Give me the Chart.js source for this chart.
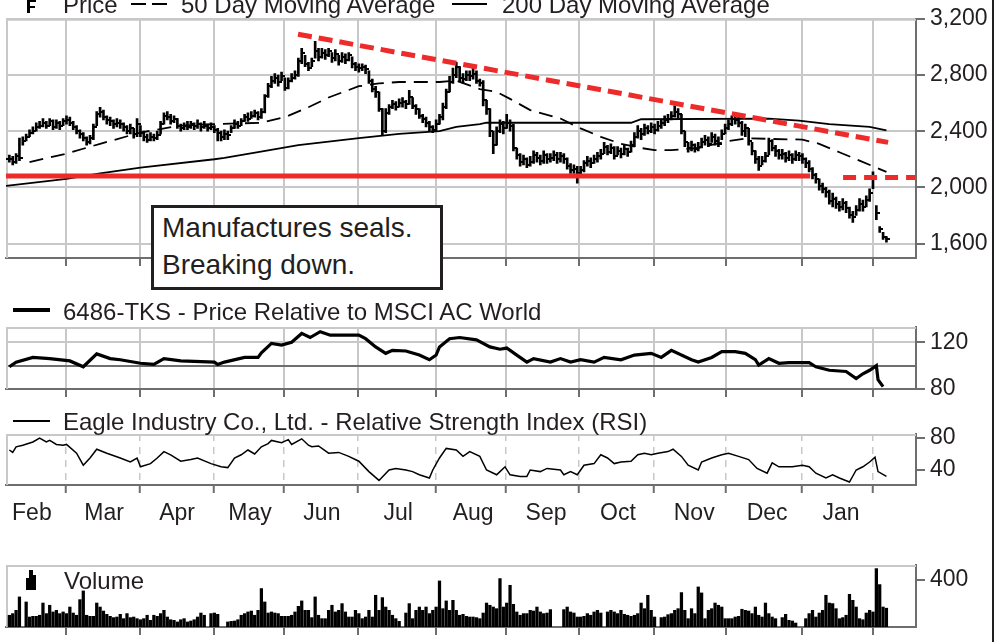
<!DOCTYPE html>
<html>
<head>
<meta charset="utf-8">
<title>Eagle Industry Co., Ltd. (6486-TKS)</title>
<script src="https://cdn.jsdelivr.net/npm/chart.js@4.4.1/dist/chart.umd.min.js"></script>
<style>
  html, body { margin: 0; padding: 0; background: #fff; }
  #page { position: relative; width: 997px; height: 642px; overflow: hidden;
          font-family: "Liberation Sans", Arial, Helvetica, sans-serif; color: #231f20; }
  #page canvas { position: absolute; left: 0; }
  .txt { position: absolute; font-size: 24px; line-height: 24px; white-space: nowrap; }
  .ink { position: absolute; background: #000; }
  #note { position: absolute; left: 151px; top: 205px; width: 278px; height: 78px;
          border: 3px solid #231f20; background: #fff; font-size: 28px; line-height: 37px;
          padding: 1px 0 0 8px; white-space: nowrap; }
  #edge { position: absolute; left: 992px; top: 0; width: 2px; height: 642px; background: #231f20; }
</style>
</head>
<body>
<div id="page">
  <canvas id="price" width="997" height="286" style="top:0"></canvas>
  <canvas id="rel" width="997" height="117" style="top:300px"></canvas>
  <canvas id="rsi" width="997" height="125" style="top:410px"></canvas>
  <canvas id="vol" width="997" height="115" style="top:540px"></canvas>

  <!-- price legend -->
  <div class="ink" style="left:27px;top:-6px;width:3px;height:19px"></div>
  <div class="ink" style="left:30px;top:0px;width:6px;height:2px"></div>
  <div class="ink" style="left:30px;top:6px;width:5px;height:2px"></div>
  <div class="txt" style="left:63px;top:-7px">Price</div>
  <div class="ink" style="left:131px;top:3px;width:15px;height:2px"></div>
  <div class="ink" style="left:152px;top:3px;width:15px;height:2px"></div>
  <div class="txt" style="left:181px;top:-7px">50 Day Moving Average</div>
  <div class="ink" style="left:452px;top:3px;width:35px;height:2px"></div>
  <div class="txt" style="left:502px;top:-7px">200 Day Moving Average</div>

  <div id="note">Manufactures seals.<br>Breaking down.</div>

  <div class="ink" style="left:13px;top:308px;width:37px;height:4px"></div>
  <div class="txt" style="left:63px;top:300px">6486-TKS - Price Relative to MSCI AC World</div>

  <div class="ink" style="left:13px;top:420px;width:37px;height:2px"></div>
  <div class="txt" style="left:63px;top:410px">Eagle Industry Co., Ltd. - Relative Strength Index (RSI)</div>

  <div class="ink" style="left:26px;top:578px;width:3px;height:12px"></div>
  <div class="ink" style="left:29px;top:570px;width:4px;height:20px"></div>
  <div class="ink" style="left:33px;top:575px;width:3px;height:15px"></div>
  <div class="txt" style="left:64px;top:569px">Volume</div>

  <div id="edge"></div>
</div>

<script>
const FONT = '"Liberation Sans", Arial, Helvetica, sans-serif';
const INK = '#231f20', LIGHT = '#c8c8c8', AXIS = '#6e6e6e', RED = '#ee2b2b';

// x is a weekday count from the start of February
const xMax = 270.8;
const monthStarts = [17.9, 39.9, 61.9, 82.7, 104.8, 128.0, 148.8, 170.5, 192.9, 214.3, 236.9, 258.0];
const monthMid = [7.7, 29.2, 50.9, 72.6, 94.0, 116.7, 139.0, 160.7, 182.1, 204.8, 226.5, 248.5];
const monthNames = ['Feb', 'Mar', 'Apr', 'May', 'Jun', 'Jul', 'Aug', 'Sep', 'Oct', 'Nov', 'Dec', 'Jan'];

const priceTicks = [1600, 2000, 2400, 2800, 3200];
const relTicks = [80, 100, 120];
const rsiTicks = [40, 80];
const volTicks = [400];

// daily bars, day 1 .. 262
const hi = [
  2230, 2220, 2240, 2350, 2360, 2380, 2410, 2430, 2460, 2470,
  2490, 2470, 2490, 2480, 2480, 2470, 2490, 2510, 2500, 2470,
  2440, 2410, 2390, 2360, 2370, 2450, 2540, 2570, 2550, 2510,
  2500, 2480, 2490, 2480, 2460, 2440, 2450, 2420, 2490, 2440,
  2400, 2380, 2390, 2380, 2400, 2470, 2530, 2540, 2520, 2510,
  2490, 2450, 2460, 2470, 2470, 2460, 2480, 2460, 2470, 2450,
  2460, 2440, 2420, 2400, 2410, 2400, 2440, 2480, 2470, 2490,
  2520, 2530, 2540, 2550, 2540, 2560, 2660, 2740, 2790, 2810,
  2800, 2820, 2780, 2780, 2810, 2830, 2920, 2990, 2940, 2890,
  2920, 3040, 2990, 2990, 2980, 2990, 2960, 2980, 2940, 2960,
  2950, 2960, 2930, 2890, 2880, 2880, 2870, 2830, 2770, 2720,
  2680, 2560, 2560, 2590, 2620, 2610, 2630, 2640, 2620, 2690,
  2640, 2590, 2560, 2520, 2500, 2470, 2440, 2480, 2520, 2600,
  2700, 2790, 2850, 2890, 2860, 2810, 2830, 2830, 2850, 2830,
  2770, 2760, 2620, 2560, 2400, 2430, 2480, 2470, 2520, 2480,
  2450, 2280, 2240, 2230, 2210, 2220, 2260, 2250, 2230, 2260,
  2240, 2240, 2260, 2250, 2250, 2240, 2210, 2170, 2160, 2150,
  2150, 2190, 2220, 2210, 2230, 2250, 2270, 2320, 2300, 2310,
  2290, 2290, 2280, 2300, 2280, 2330, 2390, 2440, 2420, 2450,
  2440, 2460, 2450, 2470, 2480, 2510, 2520, 2540, 2580, 2560,
  2520, 2400, 2320, 2330, 2310, 2320, 2350, 2370, 2360, 2390,
  2380, 2360, 2410, 2450, 2480, 2510, 2510, 2500, 2470, 2450,
  2420, 2320, 2260, 2220, 2220, 2250, 2350, 2340, 2300, 2270,
  2270, 2250, 2260, 2240, 2260, 2250, 2240, 2210, 2190, 2140,
  2100, 2060, 2030, 2000, 1980, 1960, 1930, 1900, 1920, 1900,
  1860, 1830, 1870, 1920, 1910, 1940, 1990, 2110, 1870, 1720, 1680, 1650
];
const lo = [
  2180, 2160, 2170, 2190, 2300, 2330, 2360, 2380, 2400, 2420,
  2430, 2420, 2440, 2410, 2420, 2410, 2440, 2450, 2440, 2410,
  2380, 2350, 2330, 2300, 2310, 2340, 2440, 2500, 2480, 2450,
  2440, 2420, 2430, 2420, 2400, 2380, 2380, 2350, 2360, 2360,
  2330, 2320, 2330, 2330, 2340, 2380, 2450, 2480, 2450, 2460,
  2420, 2400, 2410, 2410, 2420, 2410, 2420, 2400, 2420, 2400,
  2410, 2390, 2330, 2330, 2340, 2340, 2390, 2420, 2420, 2440,
  2470, 2470, 2490, 2500, 2480, 2490, 2530, 2640, 2710, 2740,
  2720, 2760, 2690, 2700, 2750, 2770, 2790, 2880, 2860, 2830,
  2860, 2920, 2900, 2920, 2910, 2930, 2890, 2900, 2870, 2890,
  2880, 2900, 2850, 2830, 2820, 2830, 2810, 2740, 2680, 2640,
  2540, 2370, 2390, 2520, 2560, 2550, 2570, 2570, 2560, 2590,
  2560, 2520, 2490, 2460, 2430, 2400, 2390, 2400, 2450, 2480,
  2560, 2680, 2740, 2780, 2750, 2740, 2760, 2760, 2770, 2740,
  2720, 2580, 2520, 2360, 2240, 2300, 2390, 2380, 2420, 2400,
  2260, 2200, 2150, 2160, 2140, 2150, 2170, 2180, 2160, 2170,
  2170, 2180, 2190, 2170, 2180, 2170, 2130, 2100, 2100, 2030,
  2090, 2110, 2150, 2140, 2170, 2180, 2200, 2240, 2230, 2240,
  2200, 2230, 2210, 2230, 2220, 2250, 2290, 2350, 2340, 2370,
  2380, 2390, 2380, 2400, 2420, 2440, 2460, 2480, 2500, 2490,
  2380, 2290, 2250, 2260, 2250, 2260, 2280, 2300, 2290, 2320,
  2300, 2290, 2340, 2380, 2410, 2440, 2450, 2430, 2370, 2360,
  2300, 2230, 2170, 2120, 2160, 2180, 2230, 2260, 2220, 2200,
  2200, 2180, 2190, 2170, 2190, 2190, 2170, 2140, 2110, 2060,
  2030, 1980, 1960, 1930, 1880, 1860, 1850, 1830, 1840, 1820,
  1780, 1750, 1800, 1830, 1830, 1860, 1900, 1990, 1770, 1680, 1630, 1610
];
const cl = [
  2200, 2180, 2220, 2210, 2330, 2360, 2390, 2400, 2430, 2440,
  2460, 2440, 2470, 2430, 2460, 2440, 2470, 2480, 2460, 2430,
  2400, 2380, 2350, 2320, 2350, 2430, 2520, 2540, 2500, 2480,
  2470, 2450, 2460, 2450, 2430, 2400, 2420, 2380, 2450, 2390,
  2360, 2340, 2360, 2350, 2370, 2450, 2510, 2500, 2470, 2490,
  2440, 2420, 2440, 2430, 2450, 2440, 2450, 2430, 2440, 2420,
  2430, 2410, 2390, 2360, 2380, 2370, 2420, 2450, 2440, 2470,
  2500, 2490, 2510, 2530, 2500, 2540, 2650, 2720, 2760, 2780,
  2750, 2790, 2710, 2760, 2780, 2800, 2900, 2960, 2880, 2850,
  2900, 2970, 2930, 2960, 2940, 2970, 2920, 2950, 2900, 2930,
  2910, 2940, 2880, 2860, 2850, 2860, 2840, 2760, 2700, 2680,
  2560, 2400, 2530, 2570, 2590, 2570, 2600, 2610, 2590, 2640,
  2580, 2560, 2510, 2490, 2460, 2430, 2410, 2450, 2500, 2570,
  2680, 2750, 2800, 2860, 2780, 2770, 2800, 2790, 2810, 2760,
  2740, 2620, 2560, 2400, 2300, 2400, 2450, 2420, 2460, 2440,
  2280, 2230, 2180, 2200, 2160, 2180, 2230, 2210, 2190, 2230,
  2200, 2210, 2230, 2200, 2220, 2200, 2150, 2120, 2130, 2100,
  2120, 2170, 2190, 2170, 2200, 2220, 2240, 2290, 2250, 2280,
  2220, 2260, 2240, 2270, 2250, 2300, 2360, 2400, 2380, 2420,
  2400, 2430, 2410, 2440, 2460, 2480, 2490, 2510, 2540, 2520,
  2400, 2320, 2280, 2300, 2270, 2290, 2320, 2340, 2310, 2360,
  2330, 2310, 2380, 2420, 2450, 2490, 2480, 2460, 2400, 2420,
  2330, 2260, 2200, 2150, 2190, 2220, 2330, 2280, 2260, 2230,
  2240, 2210, 2230, 2200, 2230, 2220, 2200, 2170, 2130, 2090,
  2060, 2010, 1990, 1970, 1900, 1920, 1880, 1860, 1890, 1850,
  1800, 1790, 1840, 1880, 1860, 1910, 1960, 2080, 1820, 1700, 1650, 1630
];
// volume (thousands), null = market holiday
const vol = [
  100, 114, 142, 256, null, 213, 85, 91, 91, 100,
  204, 114, 185, 128, 142, 114, 128, 114, 170, 119,
  100, 233, 307, 100, 91, 91, 204, 170, 136, 108,
  91, 80, 85, 108, 71, 114, 80, 85, 71, 62,
  71, 100, 57, 100, 91, 114, 142, 85, 62, 57,
  43, 62, 71, 43, 51, 62, 85, 119, 100, null,
  114, 119, 108, null, null, 43, 48, 51, 62, 100,
  114, 128, 136, 100, 142, 327, 213, 119, 128, 119,
  114, 91, 91, 91, 100, 128, 176, 222, 142, 142,
  80, 256, 100, 71, 71, 142, 185, 128, 142, 199,
  128, 85, 85, 142, 114, 71, 85, 142, 85, 270,
  142, 250, 170, 142, 100, 71, 48, null, 119, 199,
  71, 142, 170, 142, 170, 114, 142, 170, 392, 156,
  222, 142, 227, 142, 100, 108, 91, 85, 85, 80,
  71, 119, 204, 185, 170, 156, 412, 170, 204, 355,
  193, 128, 100, 114, 114, 142, 136, 170, 128, 114,
  119, 148, null, null, null, 148, 170, 128, 119, 85,
  85, 91, 114, 100, 128, 142, 119, null, 128, 142,
  128, 114, 142, 108, 100, 91, 100, 114, 204, 156,
  270, 142, 85, null, 80, 85, 105, 114, 142, 156,
  293, 142, 71, 156, 114, 341, 290, 71, 142, 156,
  204, 185, 170, 71, 71, 71, 85, 91, 151, 142,
  136, 114, 170, 100, 85, 204, 114, 85, 71, null,
  80, 108, 57, 51, 34, null, null, 71, 114, 142,
  85, 119, 142, 270, 204, 199, 156, 71, 80, 100,
  278, 227, 170, 71, 62, 119, 142, 128, 497, 361, 170, 160
];

// moving averages
const ma50Days = [7, 18, 28, 40, 52, 62, 76, 83, 90, 96, 105, 111, 117, 129, 134, 141, 146, 150, 156, 165,
  171, 177, 183, 189, 193, 198, 206, 215, 221, 227, 237, 242, 248, 254, 260, 262];
const ma50Vals = [2180, 2240, 2310, 2390, 2440, 2450, 2460, 2500, 2570, 2640, 2720, 2740, 2750, 2750, 2760, 2700, 2680, 2630, 2550, 2490,
  2420, 2360, 2310, 2280, 2265, 2265, 2280, 2330, 2350, 2345, 2340, 2310, 2250, 2190, 2130, 2110];
const ma200Days = [0, 18, 28, 40, 62, 65, 75, 87, 105, 117, 129, 134, 141, 143, 186, 189, 227, 236, 245, 257, 262];
const ma200Vals = [2010, 2060, 2100, 2140, 2200, 2210, 2250, 2300, 2350, 2380, 2400, 2430, 2450, 2460, 2460, 2485, 2490, 2475, 2450, 2430, 2405];

// drawn-in trend lines
const trendDays = [86.9, 262.5];
const trendVals = [3090, 2320];
const supportDays = [0, 239.3];
const supportVals = [2080, 2080];
const breakDays = [249.1, 270.5];
const breakVals = [2070, 2070];

// price relative to MSCI AC World
const relDays = [1, 3, 8, 13, 19, 23, 27, 31, 34, 40, 44, 47, 52, 62, 63, 65, 71, 75, 76, 79,
  82, 85, 88, 90.5, 93.5, 96.5, 101, 105, 107, 110, 113, 115, 119, 123, 126, 128, 129, 132, 135, 140,
  144, 147, 149, 152, 155, 157, 162, 165, 168, 171, 175, 178, 183, 187, 192, 195, 198, 204, 206, 210,
  213, 217, 220, 223, 224, 227, 230, 233, 239, 241, 245, 250, 253, 255, 257, 259, 259.5, 261];
const relVals = [99, 103, 107, 106, 104, 99, 110, 106, 105, 102, 101, 106, 104, 103, 101, 103, 107, 107, 111, 119,
  117.5, 120, 127.5, 124, 129, 126, 126, 126, 123, 116, 110.5, 113, 112.5, 109, 105, 109, 116, 123, 124, 122,
  116, 114, 115, 109, 103, 106, 103, 106, 103, 105, 103, 107, 105, 109, 110.5, 107, 113, 105, 103, 107,
  112, 112, 110.5, 105, 100.5, 106, 102, 102.5, 102.5, 99, 96, 95, 89, 93, 96, 100, 88, 82];

// RSI
const rsiDays = [1, 2, 3, 5, 8, 10, 12, 13, 15, 17, 18, 21, 23, 25, 27, 30, 34, 37, 39, 40,
  43, 45, 47, 49, 52, 55, 57, 61, 64, 66, 68, 70, 72, 74, 76, 78, 79, 82, 84, 85,
  88, 90, 91, 93, 96, 99, 102, 105, 108, 111, 114, 116, 119, 121, 123, 126, 127, 129, 131, 134,
  136, 138, 141, 143, 146, 147, 148.5, 150, 153, 155, 156, 159, 161, 165, 166, 168, 170, 172, 175, 177,
  179, 181, 183, 186, 188, 190, 192, 194, 197, 198.5, 201, 203, 206, 207, 210, 213, 215, 218, 221, 223.5,
  226.5, 228, 230, 234, 237, 239, 241, 244, 246, 248, 251, 253, 255, 257, 258.6, 259.5, 262];
const rsiVals = [65, 62, 69, 71, 75, 80, 75, 77, 72, 71, 72, 61, 46, 55, 66, 61, 55, 50, 55, 44,
  48, 55, 63, 59, 51, 53, 55, 48, 44, 43, 55, 59, 65, 60, 69, 73, 77, 74, 78, 72,
  79, 71, 69, 70, 61, 62, 57, 51, 38, 27, 40, 42, 40, 38, 34, 30, 40, 55, 67, 65,
  57, 63, 57, 40, 34, 38, 44, 34, 32, 32, 40, 38, 42, 40, 34, 38, 34, 46, 48, 59,
  55, 48, 50, 51, 59, 61, 59, 61, 63, 66, 57, 46, 40, 50, 55, 59, 61, 57, 53, 42,
  36, 49, 44, 44, 46, 44, 36, 30, 34, 30, 25, 40, 44, 50, 56, 38, 32];

Chart.defaults.font.family = FONT;
Chart.defaults.color = INK;

const pts = (xs, ys) => xs.map((x, i) => ({ x, y: ys[i] }));

// light left/top frame of each panel
const frame = {
  id: 'frame',
  beforeDatasetsDraw(chart) {
    const { ctx, chartArea: a } = chart;
    ctx.save();
    ctx.strokeStyle = LIGHT;
    ctx.lineWidth = 2;
    ctx.beginPath();
    ctx.moveTo(a.left + 1, a.bottom);
    ctx.lineTo(a.left + 1, a.top + 1);
    ctx.lineTo(a.right, a.top + 1);
    ctx.stroke();
    ctx.restore();
  }
};

function timeAxis(onArea, dash) {
  return {
    type: 'linear', position: 'bottom', min: 0, max: xMax, offset: false, weight: 0,
    afterBuildTicks: s => { s.ticks = monthStarts.map(v => ({ value: v })); },
    afterFit: s => { s.height = 8; },
    ticks: { display: false },
    grid: { offset: false, color: LIGHT, lineWidth: dash ? 1.5 : 2, drawOnChartArea: onArea,
            tickLength: 8, tickColor: AXIS, tickWidth: 2, tickBorderDash: [] },
    border: { color: AXIS, width: 2, dash: dash || [] }
  };
}

function valueAxis(min, max, ticks, fmt, grid) {
  return {
    position: 'right', min, max,
    afterBuildTicks: s => { s.ticks = ticks.map(v => ({ value: v })); },
    afterFit: s => { s.width = 81; },
    ticks: { color: INK, font: { size: 23 }, padding: 5, autoSkip: false, callback: fmt },
    grid: Object.assign({ color: LIGHT, lineWidth: 2, tickLength: 9, tickColor: AXIS, tickWidth: 2 }, grid || {}),
    border: { color: AXIS, width: 2 }
  };
}

function lineSet(data, color, width, dash, order) {
  return { type: 'line', data, borderColor: color, borderWidth: width, borderDash: dash,
           borderCapStyle: 'butt', pointRadius: 0, fill: false, tension: 0, order,
           xAxisID: 'x', yAxisID: 'y' };
}

function mark(right) {
  const c = document.createElement('canvas');
  c.width = 7; c.height = 2;
  const g = c.getContext('2d');
  g.fillStyle = '#000';
  g.fillRect(right ? 4 : 0, 0, 3, 2);
  return c;
}

function options(padding, scales) {
  return {
    responsive: false, animation: false, devicePixelRatio: 1, events: [],
    layout: { padding },
    plugins: { legend: { display: false }, tooltip: { enabled: false } },
    scales
  };
}

const withCommas = v => String(v).replace(/\B(?=(\d{3})+(?!\d))/g, ',');

new Chart(document.getElementById('price'), {
  type: 'bar',
  data: {
    datasets: [
      lineSet(pts(trendDays, trendVals), RED, 5, [14, 7], 0),
      lineSet(pts(supportDays, supportVals), RED, 5, [], 0),
      lineSet(pts(breakDays, breakVals), RED, 5, [13, 8], 0),
      { type: 'bar', data: cl.map((c, i) => ({ x: i + 1, y: [lo[i], hi[i]] })),
        backgroundColor: '#000', borderWidth: 0, barThickness: 2, grouped: false, order: 1,
        xAxisID: 'x', yAxisID: 'y' },
      { type: 'line', showLine: false, data: cl.map((c, i) => ({ x: i + 1, y: c })),
        pointStyle: mark(true), pointRadius: 2, order: 1, xAxisID: 'x', yAxisID: 'y' },
      { type: 'line', showLine: false, data: cl.map((c, i) => ({ x: i + 1, y: i ? cl[i - 1] : c })),
        pointStyle: mark(false), pointRadius: 2, order: 1, xAxisID: 'x', yAxisID: 'y' },
      lineSet(pts(ma50Days, ma50Vals), '#000', 1.8, [14, 8], 2),
      lineSet(pts(ma200Days, ma200Vals), '#000', 1.8, [], 2)
    ]
  },
  options: options({ left: 6, top: 18, right: 0, bottom: 20 }, {
    x: timeAxis(true),
    y: valueAxis(1497, 3200, priceTicks, withCommas)
  }),
  plugins: [frame]
});

new Chart(document.getElementById('rel'), {
  type: 'line',
  data: { datasets: [lineSet(pts(relDays, relVals), '#000', 3.2, [], 0)] },
  options: options({ left: 6, top: 27, right: 0, bottom: 20 }, {
    x: timeAxis(true),
    y: valueAxis(80, 133, relTicks, v => (v === 100 ? '' : v), {
      color: c => (c.tick && c.tick.value === 100 ? AXIS : LIGHT),
      tickColor: c => (c.tick && c.tick.value === 100 ? 'rgba(0,0,0,0)' : AXIS)
    })
  }),
  plugins: [frame]
});

new Chart(document.getElementById('rsi'), {
  type: 'line',
  data: { datasets: [lineSet(pts(rsiDays, rsiVals), '#000', 1.5, [], 0)] },
  options: options({ left: 6, top: 24, right: 0, bottom: 2 }, {
    x: timeAxis(true, [7, 6]),
    xm: {
      type: 'linear', position: 'bottom', min: 0, max: xMax, offset: false, weight: 1,
      afterBuildTicks: s => { s.ticks = monthMid.map(v => ({ value: v })); },
      afterFit: s => { s.height = 40; },
      grid: { display: false, drawTicks: false },
      border: { display: false },
      ticks: { autoSkip: false, maxRotation: 0, padding: 7, color: INK, font: { size: 23 },
               callback: (v, i) => monthNames[i] }
    },
    y: valueAxis(21.25, 85, rsiTicks, v => v, { drawOnChartArea: false })
  }),
  plugins: [frame]
});

new Chart(document.getElementById('vol'), {
  type: 'bar',
  data: {
    datasets: [{
      data: vol.map((v, i) => ({ x: i + 1, y: v })).filter(p => p.y !== null),
      backgroundColor: '#000', borderWidth: 0, barThickness: 2.6, grouped: false,
      xAxisID: 'x', yAxisID: 'y'
    }]
  },
  options: options({ left: 6, top: 25, right: 0, bottom: 20 }, {
    x: timeAxis(false),
    y: valueAxis(0, 527.7, volTicks, v => v, { drawOnChartArea: false })
  }),
  plugins: [frame]
});
</script>
</body>
</html>
